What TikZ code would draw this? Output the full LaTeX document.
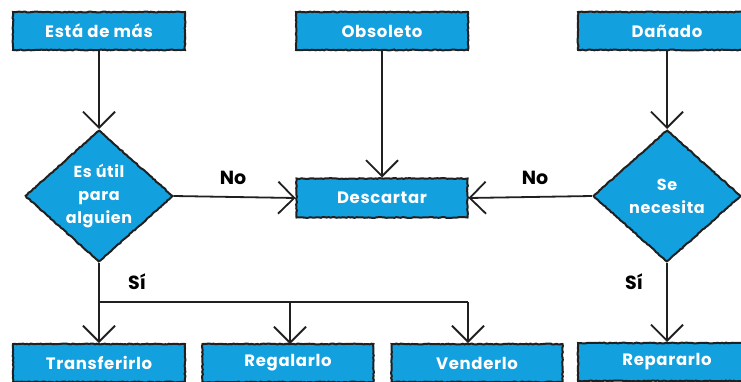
\documentclass[tikz,border=0pt]{standalone}
\usepackage{fontspec}
\setmainfont{Poppins}
\newfontfamily\labelfont[LetterSpace=4]{Poppins}
\usetikzlibrary{shapes.geometric,arrows.meta,decorations.pathmorphing}
\definecolor{boxblue}{RGB}{18,160,222}
\definecolor{ink}{RGB}{32,32,32}
\begin{document}
\begin{tikzpicture}[x=1pt,y=-1pt,
  rough/.style={decorate,decoration={random steps,segment length=2pt,amplitude=0.45pt}},
  stepbox/.style={rough,draw=ink,line width=2pt,fill=boxblue,
    minimum width=172pt,minimum height=38pt,inner sep=0pt,text=white,
    font=\labelfont\bfseries\fontsize{16.5}{18}\selectfont},
  decision/.style={rough,draw=ink,line width=2pt,fill=boxblue,diamond,
    minimum width=148pt,minimum height=132pt,aspect=1.12,inner sep=0pt,text=white,align=center,
    font=\labelfont\bfseries\fontsize{16}{23}\selectfont},
  flow/.style={draw=ink,line width=1.8pt,-{Straight Barb[length=16pt,width=32pt,line width=1.8pt]}},
  wire/.style={draw=ink,line width=1.8pt},
  answer/.style={text=black,font=\bfseries\fontsize{19}{21}\selectfont}]
\useasboundingbox (0,0) rectangle (741,381);
\fill[white] (0,0) rectangle (741,381);

% top row
\node[stepbox] (extra) at (99,31) {Está de más};
\node[stepbox] (obsolete) at (382,31) {Obsoleto};
\node[stepbox,minimum width=178pt] (broken) at (667,31) {Dañado};

% decisions
\node[decision] (useful) at (99,196) {Es útil\\para\\alguien};
\node[decision] (needed) at (667,196) {Se\\necesita};

% middle target
\node[stepbox,minimum width=171pt,minimum height=39pt] (discard) at (382,198) {Descartar};

% bottom row
\node[stepbox] (transfer) at (99,363) {Transferirlo};
\node[stepbox,minimum width=171pt] (gift) at (288,363) {Regalarlo};
\node[stepbox,minimum width=171pt] (sell) at (477,363) {Venderlo};
\node[stepbox,minimum width=178pt] (repair) at (667,362) {Repararlo};

% connectors
\draw[flow] (extra) -- (useful);
\draw[flow] (obsolete) -- (discard);
\draw[flow] (broken) -- (needed);
\draw[flow] (useful.east) -- (discard.west);
\draw[flow] (needed.west) -- (discard.east);
\draw[flow] (useful.south) -- (transfer.north);
\draw[flow] (needed.south) -- (repair.north);

\coordinate (split) at (99,302);
\coordinate (sellin) at ([xshift=-9pt]sell.north);
\draw[wire] (split) -- (split -| sellin);
\draw[flow] (split -| sellin) -- (sellin);
\draw[flow] (split -| 290,0) -- (290,344);

% answers
\node[answer] (no1) at (233,178) {No};
\node[answer] (no2) at (535,178) {No};
\node[answer] (yes1) at (137,282) {Sí};
\node[answer] (yes2) at (634,282) {Sí};
\end{tikzpicture}
\end{document}
